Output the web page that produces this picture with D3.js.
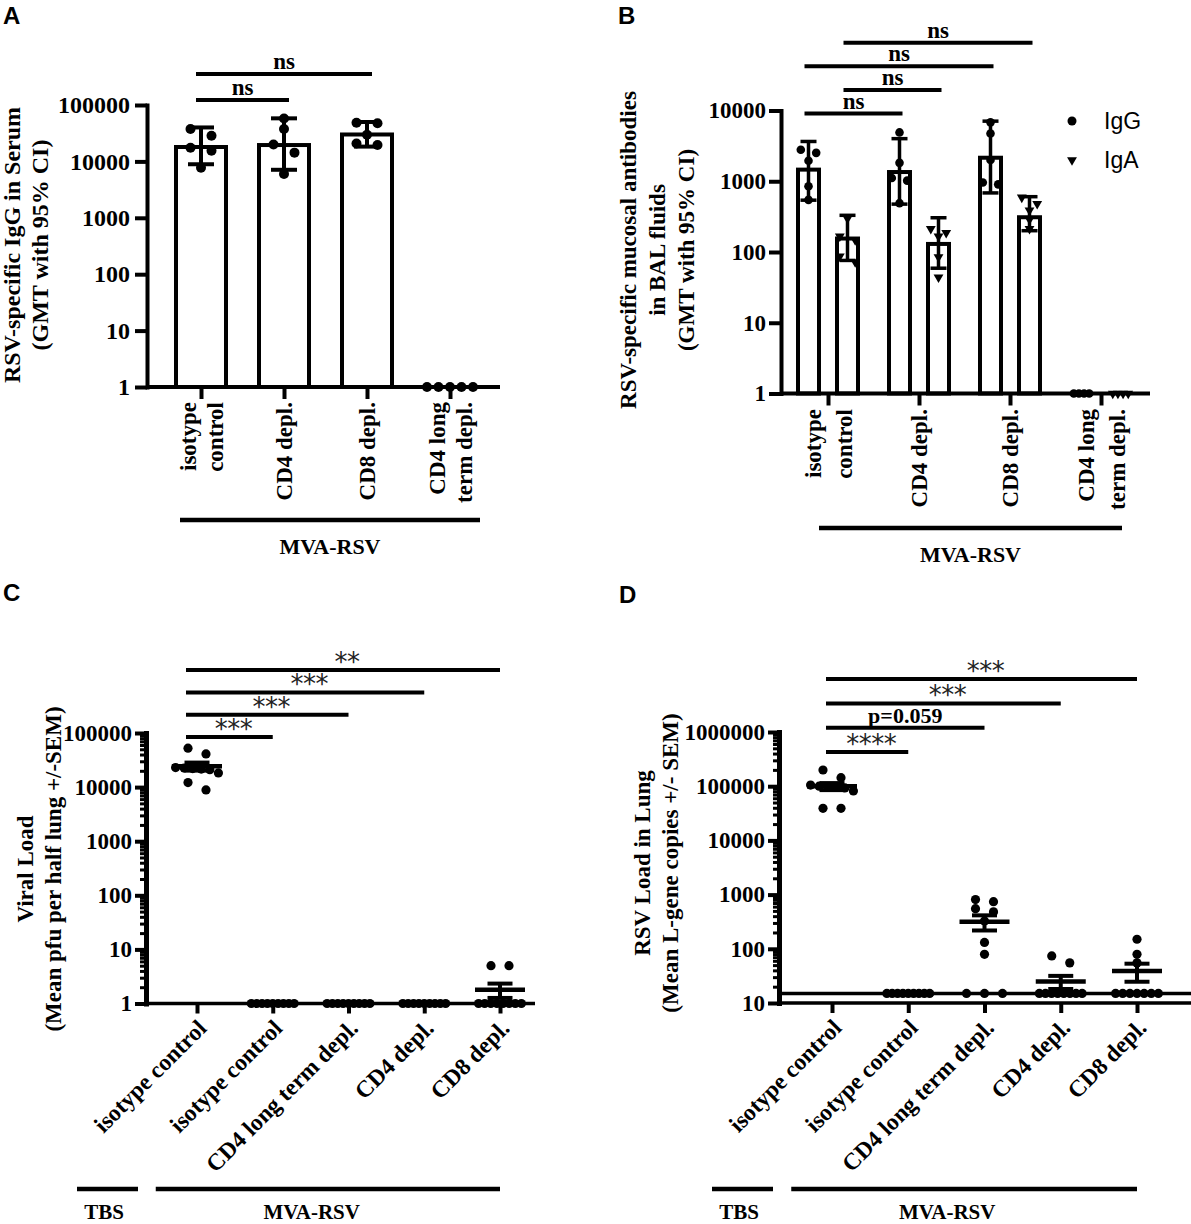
<!DOCTYPE html>
<html lang="en">
<head>
    <meta charset="UTF-8">
    <title>RSV depletion panels</title>
    <script src="https://cdn.jsdelivr.net/npm/d3@7"></script>
    <style>
        body { margin: 0; background: #fff; }
        svg { display: block; }
    </style>
</head>
<body>
<svg id="fig" width="1191" height="1224"></svg>
<script>
    const SERIF = "'Liberation Serif', 'Times New Roman', serif";
    const SANS = "'Liberation Sans', Arial, sans-serif";
    const STAR = "'DejaVu Sans', sans-serif";

    // ---------- Panel A: serum IgG (GMT with 95% CI)
    const catsA = ['isotype control', 'CD4 depl.', 'CD8 depl.', 'CD4 long term depl.'];
    const labelLinesA = [['isotype', 'control'], ['CD4 depl.'], ['CD8 depl.'], ['CD4 long', 'term depl.']];
    const gmtA = [18000, 19500, 30000, 1];
    const ciLowA = [8900, 7100, 18300, 1];
    const ciHighA = [40000, 58000, 50000, 1];
    const pointsA = [
        [37600, 28600, 17500, 15500, 7700],
        [57700, 37600, 20000, 14300, 6000],
        [48300, 47300, 29600, 19500, 20700],
        [1, 1, 1, 1, 1]
    ];
    const sigA = [[0, 1, 'ns'], [0, 2, 'ns']];   // bottom level first

    // ---------- Panel B: BAL IgG / IgA
    const seriesB = ['IgG', 'IgA'];
    const gmtIgG = [1460, 1350, 2150, 1];
    const ciLowIgG = [540, 475, 684, 1];
    const ciHighIgG = [3650, 4000, 7070, 1];
    const gmtIgA = [155, 130, 310, 1];
    const ciLowIgA = [76, 59, 200, 1];
    const ciHighIgA = [330, 305, 605, 1];
    const pointsIgG = [
        [2790, 2520, 1950, 850, 545],
        [4900, 1820, 1110, 1020, 490],
        [6800, 4740, 2000, 958, 904],
        [1, 1, 1, 1]
    ];
    const pointsIgA = [
        [297, 166, 147, 87, 72],
        [212, 187, 167, 85, 44],
        [590, 478, 389, 288, 212],
        [1, 1, 1, 1]
    ];
    const sigB = [
        [0, 'IgG', 1, 'IgG', 'ns'],
        [0, 'IgA', 1, 'IgA', 'ns'],
        [0, 'IgG', 2, 'IgG', 'ns'],
        [0, 'IgA', 2, 'IgA', 'ns']
    ];

    // ---------- Panels C and D: lung viral load (mean +/- SEM)
    const catsCD = ['isotype control', 'isotype control', 'CD4 long term depl.', 'CD4 depl.', 'CD8 depl.'];
    const pointsC = [
        [52400, 41100, 23000, 22500, 22000, 21500, 21000, 18300, 12100, 8870],
        [1, 1, 1, 1, 1, 1, 1, 1, 1],
        [1, 1, 1, 1, 1, 1, 1, 1, 1],
        [1, 1, 1, 1, 1, 1, 1, 1, 1],
        [5, 5, 1, 1, 1, 1, 1, 1, 1, 1]
    ];
    const sigC = [[0, 1, '***'], [0, 2, '***'], [0, 3, '***'], [0, 4, '**']];

    const pointsD = [
        [199000, 143600, 105000, 100000, 98000, 96000, 93000, 81500, 39100, 39100],
        [15, 15, 15, 15, 15, 15, 15, 15, 15],
        [810, 740, 550, 480, 325, 131, 79, 15, 15, 15],
        [74, 55, 15, 15, 15, 15, 15, 15, 15, 15],
        [150, 79, 55, 15, 15, 15, 15, 15, 15, 15]
    ];
    const detectionD = 15;
    const sigD = [[0, 1, '****'], [0, 2, 'p=0.059'], [0, 3, '***'], [0, 4, '***']];

    const svg = d3.select('#fig');

    // ---------- helpers
    function txt(g, x, y, s, o = {}) {
        return g.append('text')
            .attr('x', x).attr('y', y)
            .attr('font-family', o.family || SERIF)
            .attr('font-weight', o.weight || 'bold')
            .attr('font-size', o.size || 23)
            .attr('fill', o.fill || '#000')
            .attr('text-anchor', o.anchor || 'middle')
            .text(s);
    }

    function hline(g, x1, x2, y, w) {
        g.append('line').attr('x1', x1).attr('x2', x2).attr('y1', y).attr('y2', y)
            .attr('stroke', '#000').attr('stroke-width', w);
    }

    function vline(g, x, y1, y2, w) {
        g.append('line').attr('x1', x).attr('x2', x).attr('y1', y1).attr('y2', y2)
            .attr('stroke', '#000').attr('stroke-width', w);
    }

    // log y axis with decade labels, optional minor ticks
    function yAxis(g, y, x, o) {
        const [lo, hi] = y.domain();
        const decades = d3.range(Math.log10(lo), Math.log10(hi) + 1).map(e => Math.pow(10, e));
        const ax = g.append('g').attr('transform', `translate(${x},0)`)
            .call(d3.axisLeft(y).tickValues(decades).tickFormat(d3.format('d'))
                .tickSize(o.tick).tickPadding(o.pad).tickSizeOuter(0));
        ax.select('.domain').attr('stroke', '#000').attr('stroke-width', o.lw).attr('stroke-linecap', 'square');
        ax.selectAll('.tick line').attr('stroke', '#000').attr('stroke-width', o.tw);
        ax.selectAll('.tick text').attr('font-family', SERIF).attr('font-weight', 'bold')
            .attr('font-size', o.fs).attr('fill', '#000');
        if (o.minor) {
            const minors = [];
            decades.slice(0, -1).forEach(d => d3.range(2, 10).forEach(k => minors.push(d * k)));
            const mx = g.append('g').attr('transform', `translate(${x},0)`)
                .call(d3.axisLeft(y).tickValues(minors).tickFormat('').tickSize(o.minor).tickSizeOuter(0));
            mx.select('.domain').remove();
            mx.selectAll('.tick line').attr('stroke', '#000').attr('stroke-width', 3);
        }
    }

    function catTicks(g, x, y0, len, w) {
        const ax = g.append('g').attr('transform', `translate(0,${y0})`)
            .call(d3.axisBottom(x).tickFormat('').tickSize(len).tickSizeOuter(0));
        ax.select('.domain').remove();
        ax.selectAll('.tick line').attr('stroke', '#000').attr('stroke-width', w);
    }

    function yTitle(g, cx, cy, lines, lh, fs) {
        const t = g.append('text').attr('transform', `translate(${cx},${cy}) rotate(-90)`)
            .attr('text-anchor', 'middle').attr('font-family', SERIF).attr('font-weight', 'bold')
            .attr('font-size', fs).attr('fill', '#000');
        lines.forEach((ln, j) => t.append('tspan').attr('x', 0)
            .attr('y', (j - (lines.length - 1) / 2) * lh).attr('dy', '0.35em').text(ln));
    }

    function vertLabels(g, xs, top, linesList, lh, fs) {
        linesList.forEach((lines, i) => {
            const t = g.append('text').attr('transform', `translate(${xs[i]},${top}) rotate(-90)`)
                .attr('text-anchor', 'end').attr('font-family', SERIF).attr('font-weight', 'bold')
                .attr('font-size', fs).attr('fill', '#000');
            lines.forEach((ln, j) => t.append('tspan').attr('x', 0)
                .attr('y', (j - (lines.length - 1) / 2) * lh).attr('dy', '0.35em').text(ln));
        });
    }

    function slantLabels(g, xs, y0, labels, fs) {
        labels.forEach((s, i) => {
            g.append('text').attr('transform', `translate(${xs[i] + 11},${y0 + 26}) rotate(-45)`)
                .attr('text-anchor', 'end').attr('font-family', SERIF).attr('font-weight', 'bold')
                .attr('font-size', fs).attr('fill', '#000').text(s);
        });
    }

    // horizontal spread of scatter points (rows of close values fan out)
    function spread(vals, y, o) {
        const order = vals.map((v, i) => i).sort((a, b) => y(vals[a]) - y(vals[b]));
        const rows = [];
        order.forEach(i => {
            const last = rows[rows.length - 1];
            if (last && y(vals[i]) - y(vals[last[0]]) < o.gap) last.push(i);
            else rows.push([i]);
        });
        const off = new Array(vals.length).fill(0);
        rows.forEach(r => {
            const n = r.length;
            const step = n > 1 ? Math.min(o.step, (o.width - 2 * o.r) / (n - 1)) : 0;
            r.forEach((i, k) => { off[i] = (k - (n - 1) / 2) * step; });
        });
        return off;
    }

    function dots(g, cx, vals, y, o) {
        const off = spread(vals, y, o);
        vals.forEach((v, i) => {
            if (o.shape === 'tri') {
                g.append('path').attr('d', d3.symbol(d3.symbolTriangle, o.size)())
                    .attr('transform', `translate(${cx + off[i]},${y(v)}) rotate(180)`).attr('fill', '#000');
            } else {
                g.append('circle').attr('cx', cx + off[i]).attr('cy', y(v)).attr('r', o.r).attr('fill', '#000');
            }
        });
    }

    function errBar(g, cx, yLo, yHi, capW, w) {
        vline(g, cx, yLo, yHi, w);
        hline(g, cx - capW / 2, cx + capW / 2, yLo, w);
        hline(g, cx - capW / 2, cx + capW / 2, yHi, w);
    }

    function brackets(g, list, o) {
        list.forEach((b, k) => {
            const yy = o.yBottom - k * o.step;
            const x1 = b.x1, x2 = b.x2;
            hline(g, x1, x2, yy, 4);
            const stars = /^\*+$/.test(b.label);
            const t = txt(g, (x1 + x2) / 2 + (stars ? 4 : 0), stars ? yy + 1 : yy - 5, b.label,
                stars ? { family: STAR, weight: 'normal', size: 26, fill: '#222' } : { size: o.fs || 23 });
            if (stars) t.attr('letter-spacing', -0.5);
        });
    }

    function panelLetter(x, y, s) {
        txt(svg, x, y, s, { family: SANS, size: 24, anchor: 'start' });
    }

    // ================= Panel A =================
    (function () {
        const g = svg.append('g');
        const y = d3.scaleLog().domain([1, 1e5]).range([387, 105]);
        const x = d3.scalePoint().domain(catsA).range([201, 450]);
        const axX = 147;

        catsA.forEach((c, i) => {
            if (gmtA[i] > 1) {
                g.append('rect').attr('x', x(c) - 25).attr('y', y(gmtA[i]))
                    .attr('width', 50).attr('height', y(1) - y(gmtA[i]))
                    .attr('fill', '#fff').attr('stroke', '#000').attr('stroke-width', 4);
                errBar(g, x(c), y(ciLowA[i]), y(ciHighA[i]), 26, 4);
            }
        });
        hline(g, axX, 500, y(1), 4);
        yAxis(g, y, axX, { tick: 12, pad: 5, lw: 4, tw: 4, fs: 24 });
        catTicks(g, x, y(1), 12, 4);
        catsA.forEach((c, i) => dots(g, x(c), pointsA[i], y, { r: 5, gap: 8.5, step: 21, width: 56 }));

        brackets(g, sigA.map(([a, b, l]) => ({ x1: x(catsA[a]) - 5, x2: x(catsA[b]) + 5, label: l })),
            { yBottom: 100, step: 26 });

        yTitle(g, 26, 245, ['RSV-specific IgG in Serum', '(GMT with 95% CI)'], 28, 24);
        vertLabels(g, catsA.map(c => x(c)), 402, labelLinesA, 27, 23);
        hline(g, x(catsA[0]) - 21, x(catsA[3]) + 30, 520, 4.5);
        txt(g, (x(catsA[0]) - 21 + x(catsA[3]) + 30) / 2, 554, 'MVA-RSV', { size: 22 });
        panelLetter(3, 24, 'A');
    })();

    // ================= Panel B =================
    (function () {
        const g = svg.append('g');
        const y = d3.scaleLog().domain([1, 1e4]).range([393.5, 110.5]);
        const x = d3.scalePoint().domain(catsA).range([828, 1101]);
        const sub = d3.scaleBand().domain(seriesB).range([-39, 39]);
        const pos = (gi, s) => x(catsA[gi]) + sub(s) + sub.bandwidth() / 2;
        const axX = 781;
        const gmt = { IgG: gmtIgG, IgA: gmtIgA };
        const lo = { IgG: ciLowIgG, IgA: ciLowIgA };
        const hi = { IgG: ciHighIgG, IgA: ciHighIgA };
        const pts = { IgG: pointsIgG, IgA: pointsIgA };

        catsA.forEach((c, i) => seriesB.forEach(s => {
            const v = gmt[s][i];
            if (v > 1) {
                g.append('rect').attr('x', pos(i, s) - 10.5).attr('y', y(v))
                    .attr('width', 21).attr('height', y(1) - y(v))
                    .attr('fill', '#fff').attr('stroke', '#000').attr('stroke-width', 4);
                errBar(g, pos(i, s), y(lo[s][i]), y(hi[s][i]), 16, 3.5);
            }
        }));
        hline(g, axX, 1150, y(1), 4);
        yAxis(g, y, axX, { tick: 12, pad: 3, lw: 4, tw: 4, fs: 23 });
        catTicks(g, x, y(1), 12, 4);
        catsA.forEach((c, i) => seriesB.forEach(s => {
            dots(g, pos(i, s), pts[s][i], y,
                { r: 4.3, gap: 7, step: 18, width: 24, shape: s === 'IgA' ? 'tri' : 'dot', size: 42 });
        }));

        brackets(g, sigB.map(([a, sa, b, sb, l]) => ({ x1: pos(a, sa) - 4, x2: pos(b, sb) + 3, label: l })),
            { yBottom: 113.5, step: 23.6 });

        // legend
        g.append('circle').attr('cx', 1072).attr('cy', 121).attr('r', 4.5).attr('fill', '#000');
        g.append('path').attr('d', d3.symbol(d3.symbolTriangle, 42)())
            .attr('transform', 'translate(1072,160) rotate(180)').attr('fill', '#000');
        txt(g, 1104, 121, seriesB[0], { family: SANS, weight: 'normal', anchor: 'start' }).attr('dy', '0.35em');
        txt(g, 1104, 160, seriesB[1], { family: SANS, weight: 'normal', anchor: 'start' }).attr('dy', '0.35em');

        yTitle(g, 657, 250, ['RSV-specific mucosal antibodies', 'in BAL fluids', '(GMT with 95% CI)'], 29, 23);
        vertLabels(g, catsA.map(c => x(c)), 409, labelLinesA, 31, 23);
        hline(g, x(catsA[0]) - 9, x(catsA[3]) + 21, 528, 4.5);
        txt(g, (x(catsA[0]) - 9 + x(catsA[3]) + 21) / 2, 562, 'MVA-RSV', { size: 22 });
        panelLetter(618, 24, 'B');
    })();

    // ================= Panels C and D =================
    function meanSem(vals) {
        const m = d3.mean(vals);
        const sem = vals.length > 1 ? d3.deviation(vals) / Math.sqrt(vals.length) : 0;
        return [m, sem];
    }

    function scatterPanel(o) {
        const g = svg.append('g');
        const y = o.y;
        const idx = d3.range(catsCD.length);
        const x = d3.scalePoint().domain(idx).range(o.xRange);
        const base = y(y.domain()[0]);

        hline(g, o.axX, o.axEnd, base, 3.5);
        if (o.limit) hline(g, o.axX, o.axEnd, y(o.limit), 3.5);
        yAxis(g, y, o.axX, { tick: 11, pad: 3, lw: 5, tw: 4, fs: 23, minor: 6 });
        catTicks(g, x, base, 10, 4);

        o.points.forEach((vals, i) => {
            dots(g, x(i), vals, y, { r: 4.6, gap: 8, step: 18, width: 52 });
            const [m, sem] = meanSem(vals);
            hline(g, x(i) - 25, x(i) + 25, y(m), 4.5);
            if (sem > 0) errBar(g, x(i), y(m - sem), y(m + sem), 25, 4);
        });

        brackets(g, o.sig.map(([a, b, l]) => ({ x1: x(a) + o.bx1, x2: x(b) + o.bx2, label: l })),
            { yBottom: o.bBottom, step: o.bStep, fs: 22 });

        yTitle(g, o.titleX, o.titleY, o.title, 28, 23);
        slantLabels(g, idx.map(i => x(i)), base, catsCD, 23.5);

        const x0 = x(0), x1 = x(1), x4 = x(4);
        hline(g, x0 - 120, x0 - 59, 1189, 4.5);
        hline(g, x1 - 117, x4, 1189, 4.5);
        txt(g, x0 - 93, 1219, 'TBS', { size: 21 });
        txt(g, x1 + 39, 1219, 'MVA-RSV', { size: 21 });
    }

    scatterPanel({
        y: d3.scaleLog().domain([1, 1e5]).range([1003.5, 733]),
        xRange: [197, 500], axX: 146, axEnd: 535,
        points: pointsC, sig: sigC, bx1: -11, bx2: 0, bBottom: 737, bStep: 22.3,
        title: ['Viral Load', '(Mean pfu per half lung +/-SEM)'], titleX: 39, titleY: 869
    });
    panelLetter(3, 601, 'C');

    scatterPanel({
        y: d3.scaleLog().domain([10, 1e6]).range([1003, 732]),
        xRange: [832, 1137], axX: 779, axEnd: 1191, limit: detectionD,
        points: pointsD, sig: sigD, bx1: -6, bx2: 0, bBottom: 752, bStep: 24.3,
        title: ['RSV Load in Lung', '(Mean L-gene copies +/- SEM)'], titleX: 656, titleY: 863
    });
    panelLetter(619, 603, 'D');
</script>
</body>
</html>
